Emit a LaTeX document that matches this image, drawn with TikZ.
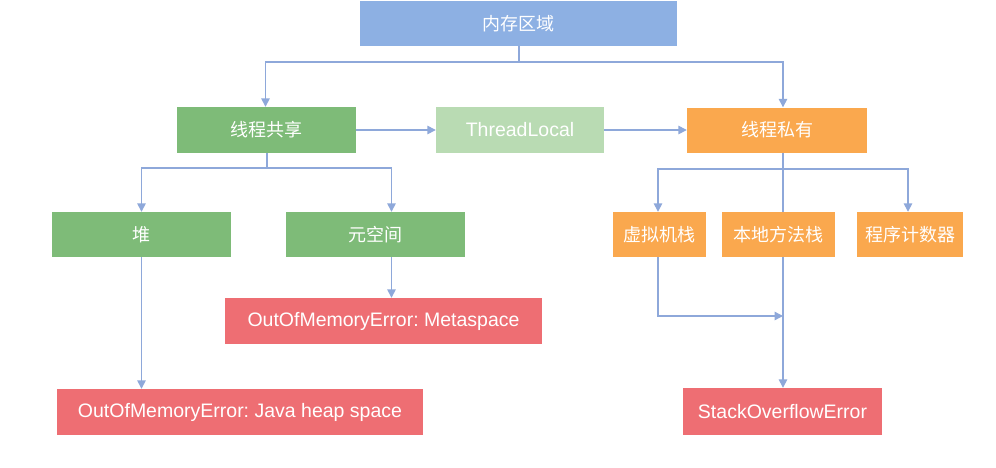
\documentclass[tikz,border=0pt]{standalone}
\usepackage{fontspec}
\setmainfont{Liberation Sans}
\newfontfamily\cjk{Noto Sans CJK SC}
\usetikzlibrary{arrows.meta}
\frenchspacing
\definecolor{cblue}{HTML}{8DB0E3}
\definecolor{cgreen}{HTML}{7EBB78}
\definecolor{clgreen}{HTML}{B9DBB3}
\definecolor{corange}{HTML}{FAA84E}
\definecolor{cred}{HTML}{EE6E73}
\definecolor{cline}{HTML}{8EA8DA}
\tikzset{
  box/.style={inner sep=0pt, text=white, anchor=center},
  cn/.style={box, font=\cjk\fontsize{18}{20}\selectfont},
  en/.style={box, font=\fontsize{19.5}{22}\selectfont},
  ln/.style={draw=cline, line width=1.4pt},
  arr/.style={ln, -{Triangle[length=8.5pt,width=8.5pt]}},
}
\begin{document}
\begin{tikzpicture}[x=1pt,y=-1pt]
\useasboundingbox (0,0) rectangle (996,467);
\fill[white] (0,0) rectangle (996,467);
% nodes
\node[cn, fill=cblue, minimum width=317pt, minimum height=45pt] (mem) at (518.5,23.5) {内存区域};
\node[cn, fill=cgreen, minimum width=179pt, minimum height=46pt] (shared) at (266.5,130) {线程共享};
\node[en, fill=clgreen, minimum width=168pt, minimum height=46pt] (tl) at (520,130) {ThreadLocal};
\node[cn, fill=corange, minimum width=180pt, minimum height=45pt] (priv) at (777,130) {线程私有};
\node[cn, fill=cgreen, minimum width=179pt, minimum height=45pt] (heap) at (141.5,234.5) {堆};
\node[cn, fill=cgreen, minimum width=179pt, minimum height=45pt] (meta) at (375.5,234.5) {元空间};
\node[cn, fill=corange, minimum width=93pt, minimum height=45pt] (vm) at (659.5,234.5) {虚拟机栈};
\node[cn, fill=corange, minimum width=113pt, minimum height=45pt] (native) at (778.5,234.5) {本地方法栈};
\node[cn, fill=corange, minimum width=106pt, minimum height=45pt] (pc) at (910,234.5) {程序计数器};
\node[en, fill=cred, minimum width=317pt, minimum height=46pt] (oommeta) at (383.5,321) {OutOfMemoryError: Metaspace};
\node[en, fill=cred, minimum width=366pt, minimum height=46pt] (oomheap) at (240,412) {OutOfMemoryError: Java heap space};
\node[en, fill=cred, minimum width=199pt, minimum height=47pt] (soe) at (782.5,411.5) {StackOverflowError};
% connectors
\coordinate (t1) at (519,62);
\draw[ln] (mem.south -| t1) -- (t1);
\draw[arr] (t1) -| ([xshift=-1pt]shared.north);
\draw[arr] (t1) -| ([xshift=6pt]priv.north);
\draw[arr] (shared.east) -- (tl.west);
\draw[arr] (tl.east) -- (priv.west);
\coordinate (t2) at (267,168);
\draw[ln] (shared.south -| t2) -- (t2);
\draw[arr] (t2) -| (heap.north);
\draw[arr] (t2) -| ([xshift=16pt]meta.north);
\draw[arr] ([xshift=16pt]meta.south) -- ([xshift=16pt]meta.south |- oommeta.north);
\draw[arr] (heap.south) -- (heap.south |- oomheap.north);
\coordinate (t3) at (783,169);
\draw[ln] (priv.south -| t3) -- (t3);
\draw[arr] (t3) -| ([xshift=-1.5pt]vm.north);
\draw[arr] (t3) -| ([xshift=-2pt]pc.north);
\draw[ln] (t3) -- (native.north -| t3);
\coordinate (m3) at (783,316);
\draw[arr] ([xshift=-1.5pt]vm.south) |- (m3);
\draw[arr] (native.south -| m3) -- (soe.north -| m3);
\end{tikzpicture}
\end{document}
